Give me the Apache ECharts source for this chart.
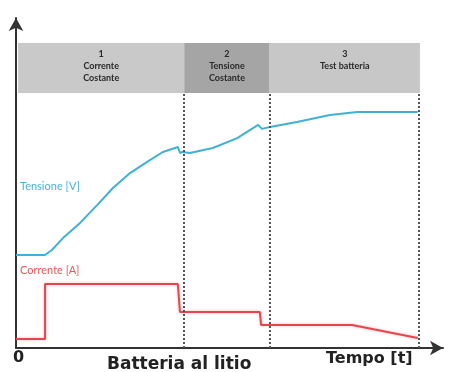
<!DOCTYPE html>
<html>
<head>
<meta charset="utf-8">
<script src="https://cdn.jsdelivr.net/npm/echarts@6/dist/echarts.min.js"></script>
<style>html,body{margin:0;padding:0;background:#fff}#c{width:452px;height:372px}</style>
</head>
<body>
<div id="c"></div>
<script>
// Tempo (unità arbitrarie 0..100) e valori (0..100)
var tensioneX = [0, 6.8, 8.4, 11.0, 15.0, 19.0, 22.7, 26.7, 30.7, 34.4, 37.9, 38.4, 38.9, 40.7, 46.1, 51.8, 56.7, 57.6, 59.5, 65.8, 73.5, 79.9, 94.1];
var tensioneY = [28.2, 28.2, 29.7, 33.3, 37.9, 43.3, 48.5, 53.0, 56.4, 59.4, 60.9, 59.1, 59.4, 59.1, 60.6, 63.6, 67.6, 66.4, 67.0, 68.5, 70.6, 71.5, 71.5];
var correnteX = [0, 6.8, 6.8, 37.9, 38.4, 57.1, 57.4, 78.7, 94.1];
var correnteY = [2.7, 2.7, 19.4, 19.4, 10.9, 10.9, 7.0, 7.0, 3.0];
var phaseLabels = ['1\nCorrente\nCostante', '2\nTensione\nCostante', '3\nTest batteria'];
var phaseBounds = [0.5, 39.4, 59.4, 94.6];
var dividerX = [39.4, 59.4, 94.4];

function pairs(xs, ys) { return xs.map(function (x, i) { return [x, ys[i]]; }); }

var bandColors = ['#c9c9c9', '#a5a5a5', '#c7c7c7'];
var areas = phaseLabels.map(function (lab, i) {
  return [{
    coord: [phaseBounds[i], 77.3],
    itemStyle: { color: bandColors[i] },
    label: { show: true, formatter: lab, position: 'insideTop', distance: 5, color: '#2a2a2a', fontSize: 9, lineHeight: 12, fontFamily: 'Lato', fontWeight: 'bold', align: 'center' }
  }, { coord: [phaseBounds[i + 1], 92.4] }];
});
var dividers = dividerX.map(function (x) { return [{ coord: [x, 0] }, { coord: [x, 77.6] }]; });

var chart = echarts.init(document.getElementById('c'));
chart.setOption({
  animation: false,
  backgroundColor: '#ffffff',
  grid: { left: 16, right: 9, top: 18, bottom: 24 },
  xAxis: {
    type: 'value', min: 0, max: 100,
    axisLine: { show: true, symbol: ['none', 'arrow'], symbolSize: [11, 13], lineStyle: { color: '#333', width: 2 } },
    axisTick: { show: false }, axisLabel: { show: false }, splitLine: { show: false }
  },
  yAxis: {
    type: 'value', min: 0, max: 100,
    axisLine: { show: true, symbol: ['none', 'arrow'], symbolSize: [11, 13], lineStyle: { color: '#333', width: 2 } },
    axisTick: { show: false }, axisLabel: { show: false }, splitLine: { show: false }
  },
  series: [
    {
      type: 'line', name: 'Fasi', data: [], silent: true,
      markArea: { silent: true, data: areas },
      markLine: {
        silent: true, symbol: 'none', label: { show: false },
        lineStyle: { color: '#555', width: 2, type: [2, 2] },
        data: dividers
      }
    },
    {
      type: 'line', name: 'Tensione [V]', data: pairs(tensioneX, tensioneY),
      showSymbol: false, smooth: false,
      lineStyle: { color: '#3fb0d6', width: 2 }
    },
    {
      type: 'line', name: 'Corrente [A]', data: pairs(correnteX, correnteY),
      showSymbol: false, smooth: false,
      lineStyle: { color: '#e8454e', width: 2, shadowColor: 'rgba(240,120,130,0.5)', shadowBlur: 3 }
    }
  ],
  graphic: [
    { type: 'text', left: 20, top: 181, style: { text: 'Tensione [V]', fill: '#4ab2da', font: '11px Lato' } },
    { type: 'text', left: 20, top: 265, style: { text: 'Corrente [A]', fill: '#e55a5a', font: '11px Lato' } },
    { type: 'text', left: 13, top: 350, style: { text: '0', fill: '#222', font: 'bold 16px "DejaVu Sans"' } },
    { type: 'text', left: 107, top: 356, style: { text: 'Batteria al litio', fill: '#222', font: 'bold 17px "DejaVu Sans"' } },
    { type: 'text', left: 326, top: 351, style: { text: 'Tempo [t]', fill: '#222', font: 'bold 16px "DejaVu Sans"' } }
  ]
});
</script>
</body>
</html>
